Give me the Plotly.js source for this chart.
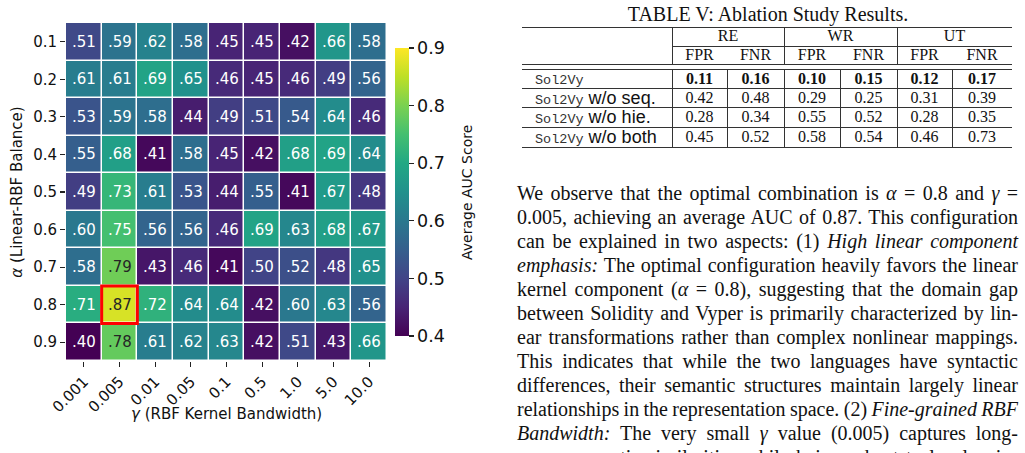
<!DOCTYPE html>
<html>
<head>
<meta charset="utf-8">
<script src="https://cdn.plot.ly/plotly-3.0.1.min.js"></script>
<style>
  html, body { margin: 0; padding: 0; background: #fff; width: 1025px; height: 453px; overflow: hidden; }
  #heat { position: absolute; left: 0; top: 0; width: 515px; height: 453px; }
  .serif { font-family: "Liberation Serif", "Times New Roman", serif; color: #111; }
  .mono { font-family: "Liberation Mono", "Courier New", monospace; font-size: 13.5px; color: #333; }
  .sans { font-family: "Liberation Sans", Arial, sans-serif; font-size: 18px; }
  .abs { position: absolute; }
  .rule { position: absolute; background: #333; }
  #para { position: absolute; left: 517px; top: 181px; width: 501px; font-size: 20px; }
  #para .ln { height: 24px; line-height: 24px; white-space: nowrap; text-align: justify; text-align-last: justify; overflow: visible; }
  .cell { position: absolute; text-align: center; font-size: 16px; line-height: 18px; height: 18px; white-space: nowrap; }
</style>
</head>
<body>
<div id="heat"></div>
<div id="side" class="serif"></div>
<div id="para" class="serif"></div>
<script>
// ---- Heatmap data: average AUC over the alpha / gamma grid ----
const gammaLabels = ['0.001', '0.005', '0.01', '0.05', '0.1', '0.5', '1.0', '5.0', '10.0'];
const alphaLabels = ['0.1', '0.2', '0.3', '0.4', '0.5', '0.6', '0.7', '0.8', '0.9'];

const aucAlpha01 = [0.51, 0.59, 0.62, 0.58, 0.45, 0.45, 0.42, 0.66, 0.58];
const aucAlpha02 = [0.61, 0.61, 0.69, 0.65, 0.46, 0.45, 0.46, 0.49, 0.56];
const aucAlpha03 = [0.53, 0.59, 0.58, 0.44, 0.49, 0.51, 0.54, 0.64, 0.46];
const aucAlpha04 = [0.55, 0.68, 0.41, 0.58, 0.45, 0.42, 0.68, 0.69, 0.64];
const aucAlpha05 = [0.49, 0.73, 0.61, 0.53, 0.44, 0.55, 0.41, 0.67, 0.48];
const aucAlpha06 = [0.60, 0.75, 0.56, 0.56, 0.46, 0.69, 0.63, 0.68, 0.67];
const aucAlpha07 = [0.58, 0.79, 0.43, 0.46, 0.41, 0.50, 0.52, 0.48, 0.65];
const aucAlpha08 = [0.71, 0.87, 0.72, 0.64, 0.64, 0.42, 0.60, 0.63, 0.56];
const aucAlpha09 = [0.40, 0.78, 0.61, 0.62, 0.63, 0.42, 0.51, 0.43, 0.66];

const bestAlpha = '0.8';
const bestGamma = '0.005';

// ---- Ablation table data ----
const tableTitle = 'TABLE V: Ablation Study Results.';
const datasetGroups = ['RE', 'WR', 'UT'];
const metricNames = ['FPR', 'FNR'];
const variantSuffix = ['', 'w/o seq.', 'w/o hie.', 'w/o both'];
const modelName = 'Sol2Vy';
const resFull    = ['0.11', '0.16', '0.10', '0.15', '0.12', '0.17'];
const resNoSeq   = ['0.42', '0.48', '0.29', '0.25', '0.31', '0.39'];
const resNoHie   = ['0.28', '0.34', '0.55', '0.52', '0.28', '0.35'];
const resNoBoth  = ['0.45', '0.52', '0.58', '0.54', '0.46', '0.73'];

// ---- Body text, one entry per typeset line ----
const a = '<i>α</i>', g = '<i>γ</i>';
const bodyLines = [
  'We observe that the optimal combination is ' + a + ' = 0.8 and ' + g + ' =',
  '0.005, achieving an average AUC of 0.87. This configuration',
  'can be explained in two aspects: (1) <i>High linear component</i>',
  '<i>emphasis:</i> The optimal configuration heavily favors the linear',
  'kernel component (' + a + ' = 0.8), suggesting that the domain gap',
  'between Solidity and Vyper is primarily characterized by lin-',
  'ear transformations rather than complex nonlinear mappings.',
  'This indicates that while the two languages have syntactic',
  'differences, their semantic structures maintain largely linear',
  'relationships in the representation space. (2) <i>Fine-grained RBF</i>',
  '<i>Bandwidth:</i> The very small ' + g + ' value (0.005) captures long-',
  'range semantic similarities while being robust to local noise'
];

// ---------------- heatmap ----------------
const zGrid = [aucAlpha01, aucAlpha02, aucAlpha03, aucAlpha04, aucAlpha05,
               aucAlpha06, aucAlpha07, aucAlpha08, aucAlpha09];

const viridis = [
  [0.0, '#440154'], [0.1, '#482475'], [0.2, '#414487'], [0.3, '#355f8d'],
  [0.4, '#2a788e'], [0.5, '#21918c'], [0.6, '#22a884'], [0.7, '#44bf70'],
  [0.8, '#7ad151'], [0.9, '#bddf26'], [1.0, '#fde725']
];

// cell value labels (leading zero dropped), dark text on the bright cells
const notes = [];
zGrid.forEach((row, i) => {
  row.forEach((v, j) => {
    notes.push({
      x: j, y: i, xref: 'x', yref: 'y',
      text: v.toFixed(2).replace(/^0/, ''), showarrow: false,
      font: { family: 'DejaVu Sans', size: 15, color: v >= 0.76 ? '#262626' : '#ffffff' }
    });
  });
});

// x-axis title, set close under the rotated tick labels
notes.push({
  xref: 'paper', yref: 'paper', x: 0.5, y: 0, yanchor: 'middle', yshift: -53,
  text: '<i>γ</i> (RBF Kernel Bandwidth)', showarrow: false,
  font: { family: 'DejaVu Sans', size: 15, color: '#111' }
});
// colour bar caption
notes.push({
  xref: 'paper', yref: 'paper', x: 1.249, y: 0.5, xanchor: 'center', yanchor: 'middle',
  textangle: -90, text: 'Average AUC Score', showarrow: false,
  font: { family: 'DejaVu Sans', size: 14, color: '#111' }
});

const bx = gammaLabels.indexOf(bestGamma), by = alphaLabels.indexOf(bestAlpha);

Plotly.newPlot('heat', [{
  type: 'heatmap',
  x: gammaLabels, y: alphaLabels, z: zGrid,
  colorscale: viridis, zmin: 0.4, zmax: 0.9,
  xgap: 1.5, ygap: 1.5,
  hoverinfo: 'skip',
  colorbar: {
    x: 1.025, xanchor: 'left', y: 0.5, yanchor: 'middle',
    xpad: 0, ypad: 0,
    thickness: 14, len: 288, lenmode: 'pixels',
    outlinewidth: 0, ticks: 'outside', ticklen: 5, tickwidth: 1.2, tickcolor: '#222',
    tickvals: [0.4, 0.5, 0.6, 0.7, 0.8, 0.9], ticktext: ['0.4', '0.5', '0.6', '0.7', '0.8', '0.9'],
    tickfont: { family: 'DejaVu Sans', size: 17.5, color: '#111' }
  }
}], {
  width: 515, height: 453,
  margin: { l: 66, r: 128, t: 23, b: 92 },
  paper_bgcolor: '#fff', plot_bgcolor: '#fff',
  font: { family: 'DejaVu Sans', color: '#111' },
  xaxis: {
    type: 'category', range: [-0.5, gammaLabels.length - 0.5],
    showgrid: false, zeroline: false, showline: false,
    ticks: 'outside', ticklen: 5, tickwidth: 1.2, tickcolor: '#222',
    tickangle: -45, tickfont: { size: 15 },
    automargin: false
  },
  yaxis: {
    type: 'category', range: [alphaLabels.length - 0.5, -0.5],
    showgrid: false, zeroline: false, showline: false,
    ticks: 'outside', ticklen: 5, tickwidth: 1.2, tickcolor: '#222',
    tickfont: { size: 15 },
    title: { text: '<i>α</i> (Linear-RBF Balance)', font: { size: 15 }, standoff: 6 },
    automargin: false
  },
  annotations: notes,
  shapes: [{
    type: 'rect', xref: 'x', yref: 'y',
    x0: bx - 0.5, x1: bx + 0.5, y0: by - 0.5, y1: by + 0.5,
    line: { color: '#ff0000', width: 3 }
  }]
}, { displayModeBar: false, staticPlot: true });

// ---------------- table ----------------
const side = document.getElementById('side');
function put(html, x, y, w) {
  const d = document.createElement('div');
  d.className = 'cell';
  d.style.left = (x - w / 2) + 'px';
  d.style.top = (y - 9) + 'px';
  d.style.width = w + 'px';
  d.innerHTML = html;
  side.appendChild(d);
}
function hline(x0, x1, y) {
  const d = document.createElement('div');
  d.className = 'rule';
  Object.assign(d.style, { left: x0 + 'px', top: y + 'px', width: (x1 - x0) + 'px', height: '1px' });
  side.appendChild(d);
}
function vline(x, y0, y1) {
  const d = document.createElement('div');
  d.className = 'rule';
  Object.assign(d.style, { left: x + 'px', top: y0 + 'px', width: '1px', height: (y1 - y0) + 'px' });
  side.appendChild(d);
}

// caption
const t = document.createElement('div');
t.className = 'abs';
Object.assign(t.style, { left: '515px', width: '506px', top: '2px', textAlign: 'center', fontSize: '20px', lineHeight: '24px' });
t.textContent = tableTitle;
side.appendChild(t);

const colEdges = [522, 672, 727, 784, 840, 897, 952, 1012];
const hdrY1 = 36, hdrY2 = 55;
const rowY = [79, 98, 117, 137];

// booktabs-style rules
hline(522, 1012, 27);
hline(672, 1012, 46);
hline(522, 1012, 64);
hline(522, 1012, 69);
hline(522, 1012, 88);
hline(522, 1012, 107);
hline(522, 1012, 127);
hline(522, 1012, 147);

[672, 784, 897].forEach(x => vline(x, 27, 64));
colEdges.slice(1, 7).forEach(x => vline(x, 69, 147));

datasetGroups.forEach((grp, k) => {
  const x0 = colEdges[1 + 2 * k], x1 = colEdges[3 + 2 * k];
  put(grp, (x0 + x1) / 2, hdrY1, x1 - x0);
  metricNames.forEach((m, q) => {
    const c0 = colEdges[1 + 2 * k + q], c1 = colEdges[2 + 2 * k + q];
    put(m, (c0 + c1) / 2, hdrY2, c1 - c0);
  });
});

const resRows = [resFull, resNoSeq, resNoHie, resNoBoth];
resRows.forEach((vals, r) => {
  const lab = document.createElement('div');
  lab.className = 'cell';
  Object.assign(lab.style, { left: '535px', top: (rowY[r] - 9) + 'px', textAlign: 'left', width: '136px' });
  lab.innerHTML = '<span class="mono">' + modelName + '</span>' +
    (variantSuffix[r] ? '<span class="sans"> ' + variantSuffix[r] + '</span>' : '');
  side.appendChild(lab);
  vals.forEach((v, c) => {
    const c0 = colEdges[1 + c], c1 = colEdges[2 + c];
    put(r === 0 ? '<b>' + v + '</b>' : v, (c0 + c1) / 2, rowY[r], c1 - c0);
  });
});

// ---------------- paragraph ----------------
const para = document.getElementById('para');
bodyLines.forEach((html) => {
  const d = document.createElement('div');
  d.className = 'ln';
  d.innerHTML = html;
  para.appendChild(d);
});
// tighten word spacing on lines that run past the column width
para.querySelectorAll('.ln').forEach(d => {
  let ws = 0;
  while (d.scrollWidth > d.clientWidth + 0.5 && ws > -4) {
    ws -= 0.25;
    d.style.wordSpacing = ws + 'px';
  }
});
</script>
</body>
</html>
